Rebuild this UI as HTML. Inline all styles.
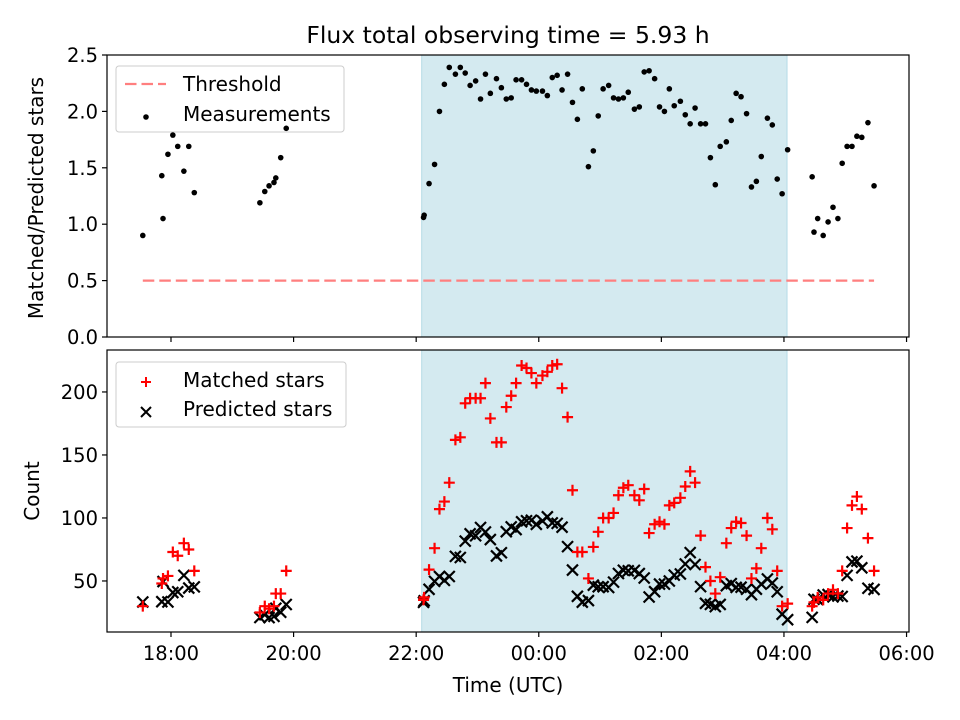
<!DOCTYPE html>
<html><head><meta charset="utf-8"><style>
body{margin:0;background:#fff;}
svg{display:block;font-family:"DejaVu Sans","Liberation Sans",sans-serif;}
</style></head><body>
<svg id="chart" width="960" height="720">
<text x="508" y="43" font-size="23.5" text-anchor="middle">Flux total observing time = 5.93 h</text>
<text x="508" y="692" font-size="20" text-anchor="middle">Time (UTC)</text>
<text transform="translate(43,198) rotate(-90)" font-size="20" text-anchor="middle">Matched/Predicted stars</text>
<text transform="translate(39,491) rotate(-90)" font-size="20" text-anchor="middle">Count</text>
</svg>
<script>
const times=[-0.46,-0.15,-0.13,-0.05,0.03,0.11,0.21,0.29,0.38,
1.45,1.53,1.60,1.68,1.71,1.79,1.88,
4.12,4.13,4.21,4.30,4.38,4.46,4.54,4.64,4.72,4.80,4.88,4.97,5.05,5.13,5.21,5.31,5.39,5.47,5.55,5.63,5.72,5.80,5.88,5.96,6.06,6.14,6.22,6.30,6.38,6.47,6.55,6.63,6.71,6.81,6.89,6.97,7.05,7.14,7.22,7.30,7.38,7.46,7.56,7.64,7.72,7.80,7.89,7.97,8.05,8.13,8.21,8.31,8.39,8.47,8.55,8.64,8.72,8.80,8.88,8.96,9.06,9.14,9.22,9.30,9.39,9.47,9.55,9.63,9.73,9.81,9.89,9.97,10.06,
10.46,10.49,10.55,10.64,10.72,10.80,10.88,10.95,11.03,11.11,11.19,11.27,11.37,11.47];
const ratio=[0.90,1.43,1.05,1.62,1.79,1.69,1.47,1.69,1.28,
1.19,1.29,1.34,1.37,1.41,1.59,1.85,
1.06,1.08,1.36,1.53,2.00,2.24,2.39,2.33,2.39,2.34,2.23,2.27,2.11,2.33,2.16,2.29,2.21,2.11,2.12,2.28,2.28,2.24,2.19,2.18,2.18,2.14,2.30,2.32,2.19,2.33,2.08,1.93,2.20,1.51,1.65,1.96,2.20,2.23,2.12,2.11,2.12,2.17,2.02,2.04,2.35,2.36,2.29,2.04,2.00,2.20,2.05,2.09,1.97,1.89,2.03,1.89,1.89,1.59,1.35,1.69,1.73,1.92,2.16,2.13,1.98,1.33,1.38,1.60,1.94,1.88,1.40,1.27,1.66,
1.42,0.93,1.05,0.90,1.02,1.15,1.05,1.54,1.69,1.69,1.78,1.77,1.90,1.34];
const matched=[30,48,52,54,73,70,80,75,58,
25,30,28,30,40,40,58,
35,37,59,76,107,113,128,162,164,191,195,195,195,207,179,160,160,188,197,207,221,219,215,207,213,216,221,222,203,180,122,73,73,52,77,89,100,100,104,118,124,126,118,114,123,88,95,97,95,110,112,116,125,137,128,86,61,50,40,53,80,92,97,96,86,52,60,76,100,91,58,30,32,
30,33,37,35,40,43,40,58,92,110,117,107,84,58];
const predicted=matched.map((m,i)=>m/ratio[i]);
const xTicks=[0,2,4,6,8,10,12];
const xTickLabels=["18:00","20:00","22:00","00:00","02:00","04:00","06:00"];
const topTicks=[0,0.5,1,1.5,2,2.5];
const botTicks=[50,100,150,200];
const threshold=0.5, thrStart=-0.46, thrEnd=11.47;
const shadeStart=4.09, shadeEnd=10.05;

const NS="http://www.w3.org/2000/svg";
const svg=document.getElementById('chart');
const L=107,R=909,T1=55,B1=337,T2=350,B2=632;
const X=h=>L+(h+1.044)/(13.084)*(R-L);
const Y1=v=>B1-v/2.5*(B1-T1);
const Y2=c=>B2-(c-9.5)/(233.3-9.5)*(B2-T2);
function el(tag,attrs,parent){const e=document.createElementNS(NS,tag);for(const k in attrs)e.setAttribute(k,attrs[k]);(parent||svg).appendChild(e);return e;}
function txt(s,attrs){const t=el('text',attrs);t.textContent=s;return t;}
const DASH='11.5,5';

for(const [T,B,nm] of [[T1,B1,'top'],[T2,B2,'bottom']]){
  const r=el('rect',{x:X(shadeStart),y:T,width:X(shadeEnd)-X(shadeStart),height:B-T,fill:'#d4eaf0',stroke:'#b5dbe6','stroke-width':1});
  
  
}
const lg1=el('g',{});


el('rect',{x:116,y:66,width:228,height:66,rx:3,fill:'#fff','fill-opacity':0.8,stroke:'#ccc'},lg1);
el('line',{x1:125,x2:166,y1:84,y2:84,stroke:'#ff7f7f','stroke-width':2.3,'stroke-dasharray':DASH},lg1);
el('circle',{cx:146,cy:117,r:2.8,fill:'#000'},lg1);
const lt1=txt('Threshold',{x:183,y:91,'font-size':20});


const lt2=txt('Measurements',{x:183,y:121,'font-size':20});


const lg2=el('g',{});


el('rect',{x:116,y:362,width:230,height:65,rx:3,fill:'#fff','fill-opacity':0.8,stroke:'#ccc'},lg2);
el('path',{d:'M141,382L151,382M146,377L146,387',stroke:'#f00','stroke-width':2},lg2);
el('path',{d:'M141,407L151,417M141,417L151,407',stroke:'#000','stroke-width':2},lg2);
const lt3=txt('Matched stars',{x:183,y:387,'font-size':20});


const lt4=txt('Predicted stars',{x:183,y:416,'font-size':20});



const th=el('line',{x1:X(thrStart),x2:X(thrEnd),y1:Y1(threshold),y2:Y1(threshold),stroke:'#ff7f7f','stroke-width':2.3,'stroke-dasharray':DASH});


times.forEach((t,i)=>{
  const c=el('circle',{cx:X(t),cy:Y1(ratio[i]),r:2.8,fill:'#000'});
  
  
});
times.forEach((t,i)=>{
  const x=X(t),y=Y2(predicted[i]),s=5.5;
  const p=el('path',{d:`M${x-s},${y-s}L${x+s},${y+s}M${x-s},${y+s}L${x+s},${y-s}`,stroke:'#000','stroke-width':2.2});
  
  
});
times.forEach((t,i)=>{
  const x=X(t),y=Y2(matched[i]),s=5.5;
  const p=el('path',{d:`M${x-s},${y}L${x+s},${y}M${x},${y-s}L${x},${y+s}`,stroke:'#f00','stroke-width':2.2});
  
  
});
for(const [T,B,nm] of [[T1,B1,'top'],[T2,B2,'bottom']]){
  const r=el('rect',{x:L,y:T,width:R-L,height:B-T,fill:'none',stroke:'#000','stroke-width':1.2});
  
  
}
xTicks.forEach((h,i)=>{
  el('line',{x1:X(h),x2:X(h),y1:B1,y2:B1+5,stroke:'#000','stroke-width':1.2});
  el('line',{x1:X(h),x2:X(h),y1:B2,y2:B2+5,stroke:'#000','stroke-width':1.2});
  const t=txt(xTickLabels[i],{x:X(h),y:B2+28,'font-size':19.5,'text-anchor':'middle'});
  
  
});
topTicks.forEach(v=>{
  el('line',{x1:L-5,x2:L,y1:Y1(v),y2:Y1(v),stroke:'#000','stroke-width':1.2});
  const t=txt(v.toFixed(1),{x:L-9,y:Y1(v)+7,'font-size':19.5,'text-anchor':'end'});
  
  
});
botTicks.forEach(v=>{
  el('line',{x1:L-5,x2:L,y1:Y2(v),y2:Y2(v),stroke:'#000','stroke-width':1.2});
  const t=txt(String(v),{x:L-9,y:Y2(v)+7,'font-size':19.5,'text-anchor':'end'});
  
  
});
</script>
</body></html>
